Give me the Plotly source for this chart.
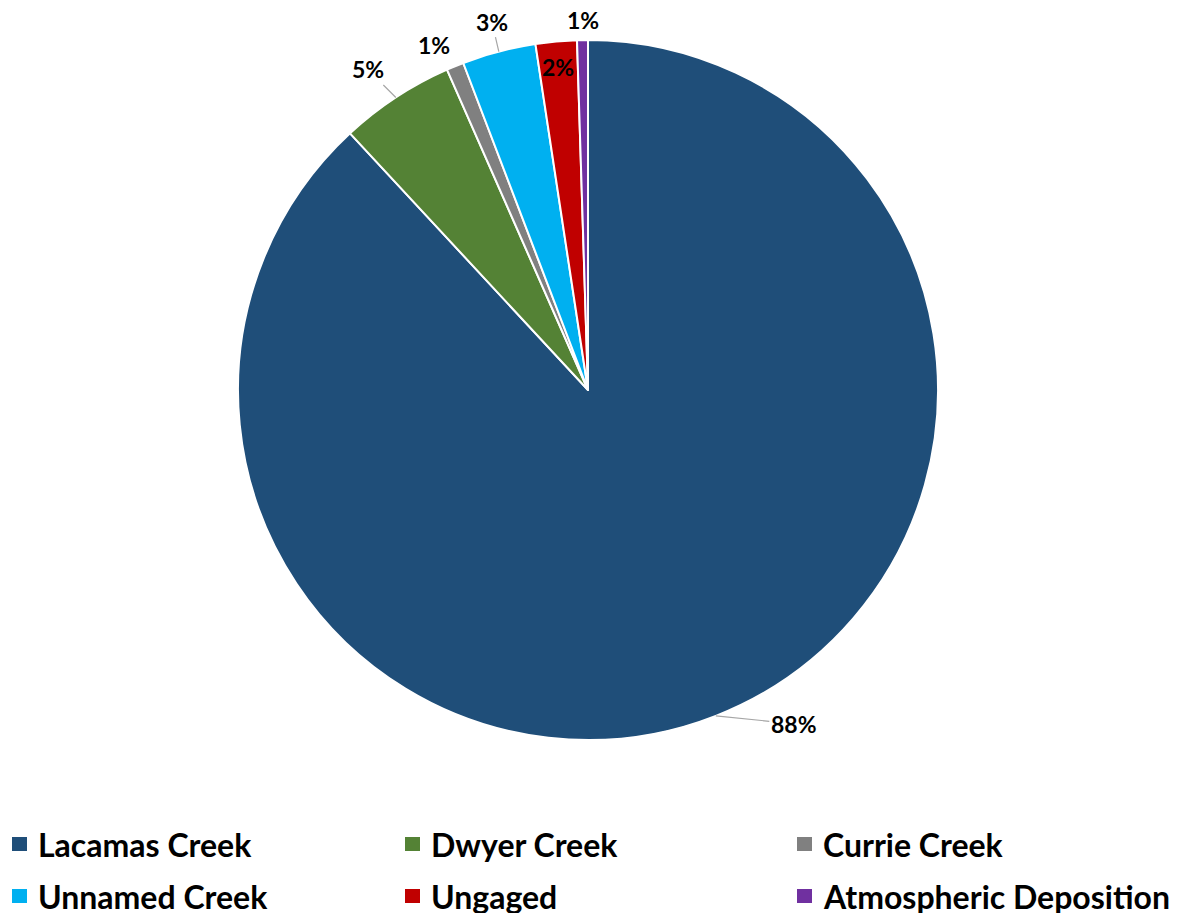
import math
import plotly.graph_objects as go

sources = ['Lacamas Creek', 'Dwyer Creek', 'Currie Creek',
           'Unnamed Creek', 'Ungaged', 'Atmospheric Deposition']
shares = [88.1, 5.3, 0.8, 3.4, 1.9, 0.5]
share_labels = ['88%', '5%', '1%', '3%', '2%', '1%']
colors = ['#1F4E79', '#548235', '#808080', '#00B0F0', '#C00000', '#7030A0']

# label offsets (px) from the slice edge, and whether a leader line is drawn
label_offsets = [(78, 8), (-28, -28), (-21, -21), (-7, -30), (2, 26), (0, -20)]
label_lines = [True, True, False, True, False, False]

W, H = 1177, 913
PAGE_PAD = 8  # the html body margin shifts the figure by this much
CX, CY, R = 588 - PAGE_PAD, 390 - PAGE_PAD, 350  # pie centre / radius in pixels
FONT = 'Lato'

fig = go.Figure(go.Pie(
    labels=sources,
    values=shares,
    textinfo='none',
    sort=False,
    direction='clockwise',
    rotation=0,
    marker=dict(colors=colors, line=dict(color='white', width=2)),
    domain=dict(x=[(CX - R) / W, (CX + R) / W], y=[1 - (CY + R) / H, 1 - (CY - R) / H]),
    hoverinfo='label+percent',
    showlegend=False,
))

# data labels, anchored at the outer edge of each slice
total = sum(shares)
cum = 0
for val, lab, (dx, dy), line in zip(shares, share_labels, label_offsets, label_lines):
    mid = (cum + val / 2) / total * 2 * math.pi
    cum += val
    ex = CX + R * math.sin(mid)
    ey = CY - R * math.cos(mid)
    fig.add_annotation(
        x=ex / W, y=1 - ey / H, xref='paper', yref='paper',
        text=lab, showarrow=True, ax=dx, ay=dy,
        arrowhead=0, arrowwidth=1.2, standoff=0,
        arrowcolor='#A6A6A6' if line else 'rgba(0,0,0,0)',
        font=dict(family=FONT, size=23, color='black', weight='bold'),
    )

# legend: 3 columns x 2 rows
col_x = [12 - PAGE_PAD, 405 - PAGE_PAD, 797 - PAGE_PAD]
row_y = [844 - PAGE_PAD, 896 - PAGE_PAD]
for i, (name, c) in enumerate(zip(sources, colors)):
    x0 = col_x[i % 3]
    yc = row_y[i // 3]
    fig.add_shape(type='rect', xref='paper', yref='paper',
                  x0=x0 / W, x1=(x0 + 15) / W,
                  y0=1 - (yc + 7) / H, y1=1 - (yc - 7) / H,
                  fillcolor=c, line=dict(width=0))
    fig.add_annotation(
        x=(x0 + 24) / W, y=1 - yc / H, xref='paper', yref='paper',
        xanchor='left', yanchor='middle', showarrow=False,
        text=name,
        font=dict(family=FONT, size=32, color='black', weight='bold'),
    )

fig.update_layout(
    width=W, height=H,
    margin=dict(l=0, r=0, t=0, b=0),
    paper_bgcolor='white',
    plot_bgcolor='white',
)

fig.write_html('out.html')
